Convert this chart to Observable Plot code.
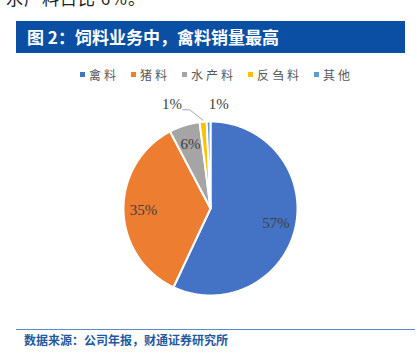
<!DOCTYPE html>
<html><head><meta charset="utf-8">
<script src="https://cdn.jsdelivr.net/npm/d3@7"></script>
<script src="https://cdn.jsdelivr.net/npm/@observablehq/plot@0.6"></script>
<style>
body{margin:0;background:#fff;width:417px;height:355px;overflow:hidden;font-family:"Noto Sans CJK SC",sans-serif;}
#top{height:14px;overflow:hidden;position:relative;}
#top span{position:absolute;left:6px;top:-15px;font-size:17px;color:#222;white-space:nowrap;letter-spacing:1px;}
#title{margin:7px 0 0 16px;width:389px;height:32px;background:#0a4fa3;color:#fff;font-weight:bold;font-size:17px;line-height:32px;box-sizing:border-box;padding-left:11px;}
#legend{height:42px;display:flex;align-items:center;padding-left:80px;font-size:12px;color:#595959;letter-spacing:3px;}
#legend .it{display:flex;align-items:center;margin-right:12px;}
#legend .sw{width:5px;height:5px;margin-right:4px;}
#src{margin:9px 2px 0 16px;border-top:1px solid #5b8ac8;padding:1px 0 0 8px;font-size:12px;font-weight:bold;color:#1f5aa0;}
</style></head>
<body>
<div id="top"><span>水产料占比 6%。</span></div>
<div id="title">图 2：饲料业务中，禽料销量最高</div>
<div id="legend"></div>
<div id="chart"></div>
<div id="src">数据来源：公司年报，财通证券研究所</div>
<script>
const categories = ["禽料", "猪料", "水产料", "反刍料", "其他"];
const shares = [57.0, 35.3, 5.7, 1.3, 0.7];
const labels = ["57%", "35%", "6%", "1%", "1%"];
const colors = ["#4472C4", "#ED7D31", "#A5A5A5", "#FFC000", "#5B9BD5"];

// legend
const lg = document.getElementById("legend");
categories.forEach((c, i) => {
  const it = document.createElement("div"); it.className = "it";
  const sw = document.createElement("div"); sw.className = "sw"; sw.style.background = colors[i];
  const t = document.createElement("span"); t.textContent = c;
  it.appendChild(sw); it.appendChild(t); lg.appendChild(it);
});

const arcs = d3.pie().sort(null).value(d => d)(shares);
// polygons in unit coordinates (angle clockwise from 12 o'clock)
const pts = [];
arcs.forEach((a, i) => {
  const n = Math.max(2, Math.ceil((a.endAngle - a.startAngle) / 0.01));
  pts.push({cat: categories[i], x: 0, y: 0});
  for (let k = 0; k <= n; k++) {
    const t = a.startAngle + (a.endAngle - a.startAngle) * k / n;
    pts.push({cat: categories[i], x: Math.sin(t), y: Math.cos(t)});
  }
  pts.push({cat: categories[i], x: 0, y: 0});
});

const lab = arcs.map((a, i) => {
  const m = (a.startAngle + a.endAngle) / 2;
  if (shares[i] >= 3) return {text: labels[i], x: Math.sin(m) * 0.77, y: Math.cos(m) * 0.77};
  return {text: labels[i], x: Math.sin(m) * 1.2 + (i === 3 ? -0.34 : 0.12), y: 1.2};
});
const ya = arcs[3], ym = (ya.startAngle + ya.endAngle) / 2;
const leader = [
  {x: -0.32, y: 1.135},
  {x: -0.24, y: 1.135},
  {x: Math.sin(ym) * 1.02, y: Math.cos(ym) * 1.02}
];

const plot = Plot.plot({
  width: 417, height: 225,
  marginLeft: 123, marginRight: 120, marginTop: 26, marginBottom: 25,
  x: {domain: [-1, 1], axis: null},
  y: {domain: [-1, 1], axis: null},
  color: {domain: categories, range: colors},
  marks: [
    Plot.line(pts, {x: "x", y: "y", z: "cat", fill: "cat", stroke: "white", strokeWidth: 2, strokeLinejoin: "round", curve: "linear-closed"}),
    Plot.line(leader, {x: "x", y: "y", stroke: "#a6a6a6", strokeWidth: 1}),
    Plot.text(lab, {x: "x", y: "y", text: "text", fill: "#404040", fontSize: 15, fontFamily: "Liberation Serif"})
  ]
});
document.getElementById("chart").appendChild(plot);
</script>
</body></html>
